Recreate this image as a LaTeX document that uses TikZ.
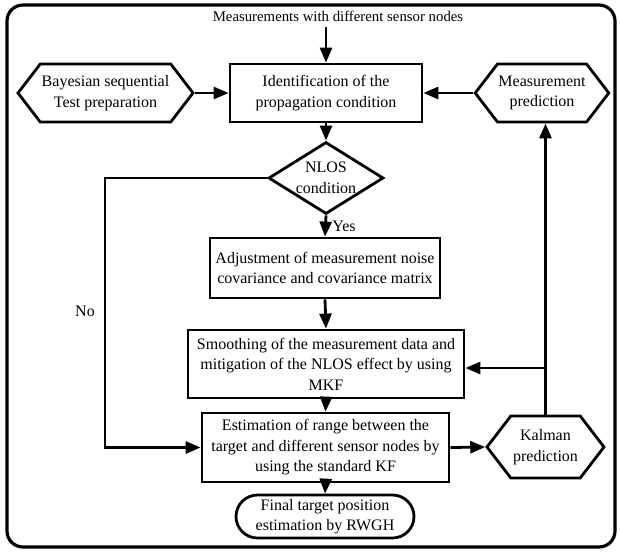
\documentclass[tikz,border=0pt]{standalone}
\usepackage{fontspec}
\setmainfont{Liberation Serif}
\usetikzlibrary{arrows.meta,shapes.geometric,shapes.symbols,shapes.misc}
\begin{document}
\begin{tikzpicture}[x=1pt,y=-1pt,
  line width=2.8pt,
  every node/.style={font=\fontsize{16}{20.5}\selectfont, align=center},
  arr/.style={-{Triangle[length=15pt,width=12pt]}},
  procbox/.style={draw, rectangle, inner sep=1pt},
  hexbox/.style={draw, signal, signal to=west and east, signal pointer angle=105, inner sep=1pt},
  decbox/.style={draw, diamond, inner sep=0pt},
  termbox/.style={draw, rounded rectangle, inner sep=1pt},
  plain/.style={inner sep=1pt}
]
\useasboundingbox (0,0) rectangle (620,552);
\draw[line width=3.2pt, rounded corners=16pt] (7,5) rectangle (615,547);

\node[plain, font=\fontsize{14.8}{18}\selectfont] (title) at (338,16) {Measurements with different sensor nodes};
\node[procbox, minimum width=192pt, minimum height=58pt] (ident) at (326,93) {Identification of the\\propagation condition};
\node[hexbox, minimum width=175pt, minimum height=58pt] (bayes) at (105.5,93) {Bayesian sequential\\Test preparation};
\node[hexbox, minimum width=124pt, minimum height=58pt] (mpred) at (542,93) {Measurement\\prediction};
\node[decbox, minimum width=115pt, minimum height=72pt,
  label={[font=\fontsize{16}{20.5}\selectfont, align=center]center:NLOS\\condition}] (nlos) at (326,178) {};
\node[procbox, minimum width=230pt, minimum height=60pt] (adj) at (325,268) {Adjustment of measurement noise\\covariance and covariance matrix};
\node[procbox, minimum width=276pt, minimum height=68pt] (smooth) at (326,364) {Smoothing of the measurement data and\\mitigation of the NLOS effect by using\\MKF};
\node[procbox, minimum width=247pt, minimum height=69pt] (est) at (325.5,447.5) {Estimation of range between the\\target and different sensor nodes by\\using the standard KF};
\node[hexbox, minimum width=117pt, minimum height=62pt] (kal) at (545.5,447) {Kalman\\prediction};
\node[termbox, minimum width=180pt, minimum height=43pt] (final) at (325,516.5) {Final target position\\estimation by RWGH};
\node[plain] (no) at (85,311) {No};
\node[plain, anchor=west] (yes) at (330,226) {Yes};

\coordinate (ltop) at (105,178);
\coordinate (lbot) at (105,447.5);
\coordinate (rmid) at (545.5,368);
\coordinate (tarr) at (326,27);

\draw[arr] (tarr) -- (ident.north);
\draw[arr] (bayes.east) -- (ident.west);
\draw[arr] (mpred.west) -- (ident.east);
\draw[arr] (ident.south) -- (nlos.north);
\draw[arr] (nlos.south) -- (adj.north);
\draw[arr] (adj.south) -- (smooth.north);
\draw[arr] (smooth.south) -- (est.north);
\draw[arr] (est.south) -- (final.north);
\draw[arr] (est.east) -- (kal.west);
\draw[arr] (nlos.west) -- (ltop) -- (lbot) -- (est.west);
\draw[arr] (kal.north) -- (kal.north |- mpred.south);
\draw[arr] (rmid) -- (rmid -| smooth.east);
\end{tikzpicture}
\end{document}
